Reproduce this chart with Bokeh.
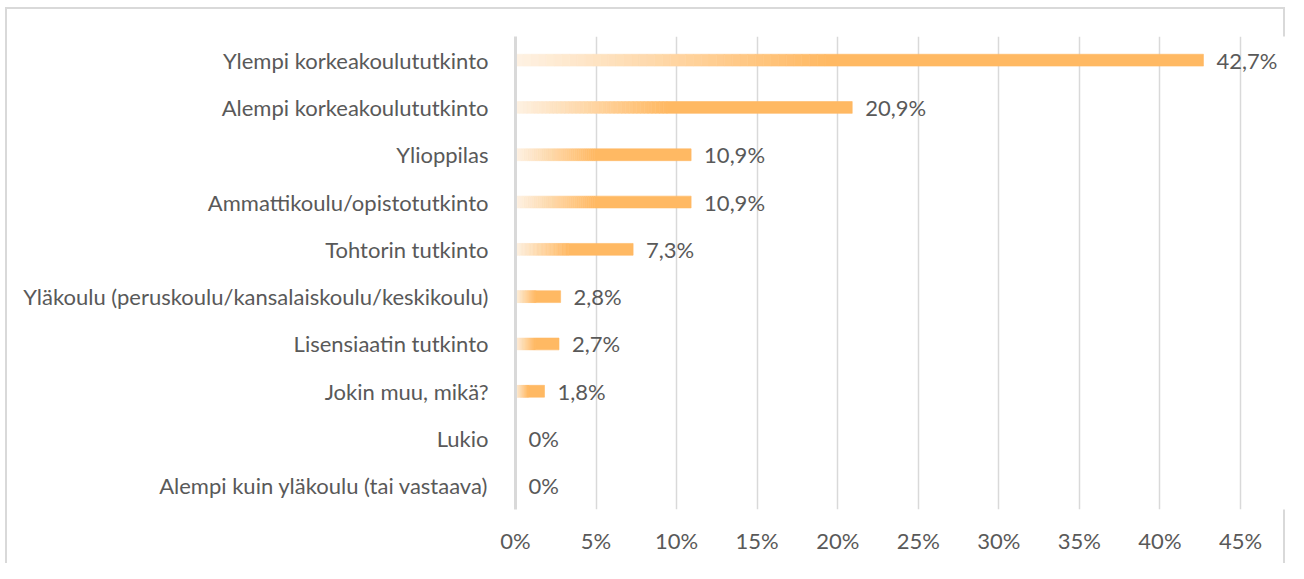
import numpy as np
from bokeh.plotting import figure
from bokeh.models import ColumnDataSource, FactorRange, FixedTicker, NumeralTickFormatter, LabelSet
from bokeh.core.properties import value
from bokeh.embed import file_html
from bokeh.resources import INLINE

categories = [
    "Ylempi korkeakoulututkinto",
    "Alempi korkeakoulututkinto",
    "Ylioppilas",
    "Ammattikoulu/opistotutkinto",
    "Tohtorin tutkinto",
    "Yläkoulu (peruskoulu/kansalaiskoulu/keskikoulu)",
    "Lisensiaatin tutkinto",
    "Jokin muu, mikä?",
    "Lukio",
    "Alempi kuin yläkoulu (tai vastaava)",
]
values = [42.7, 20.9, 10.9, 10.9, 7.3, 2.8, 2.7, 1.8, 0.0, 0.0]
x_ticks = [0, 5, 10, 15, 20, 25, 30, 35, 40, 45]

FONT = "Lato"
FS = "22px"
TEXT = "#595959"
GRID = "#d9d9d9"
c0 = np.array([254, 242, 228])
c1 = np.array([255, 185, 99])

# gradient slices (Excel-style gradient fill relative to each bar)
ys, lefts, rights, cols = [], [], [], []
N = 40
for cat, v in zip(categories, values):
    frac = v / 100.0
    if frac <= 0:
        continue
    g = frac * 0.45
    for i in range(N):
        t = (i + 0.5) / N
        c = (c0 + (c1 - c0) * t).round().astype(int)
        ys.append(cat)
        lefts.append(g * i / N)
        rights.append(g * (i + 1) / N)
        cols.append("#%02x%02x%02x" % tuple(c))
    ys.append(cat)
    lefts.append(g)
    rights.append(frac)
    cols.append("#%02x%02x%02x" % tuple(c1))
src = ColumnDataSource(dict(y=ys, left=lefts, right=rights, color=cols))

def fmt(v):
    if v == 0:
        return "0%"
    return ("%.1f%%" % v).replace(".", ",")

lab = ColumnDataSource(dict(y=categories, x=[v / 100.0 for v in values], t=[fmt(v) for v in values]))

W, H = 1288, 563
LEFT = 515
px45 = 725.0
x_end = 0.45 * (W - LEFT) / px45

p = figure(
    width=W, height=H,
    y_range=FactorRange(factors=list(reversed(categories))),
    x_range=(0, x_end),
    output_backend="svg", toolbar_location=None,
    min_border_left=LEFT, min_border_right=0, min_border_top=36, min_border_bottom=54,
)
p.styles = {
    "background-color": "white",
    "background-image": "linear-gradient(#d9d9d9,#d9d9d9), linear-gradient(#d9d9d9,#d9d9d9), linear-gradient(#d9d9d9,#d9d9d9)",
    "background-size": "1280px 2px, 2px 600px, 2px 600px",
    "background-position": "5px 7px, 5px 7px, 1283px 7px",
    "background-repeat": "no-repeat",
}
p.outline_line_color = None
p.background_fill_color = "white"
p.border_fill_color = None

p.hbar(y="y", left="left", right="right", height=0.25, fill_color="color",
       line_color="color", line_width=0.6, source=src)

labels = LabelSet(x="x", y="y", text="t", source=lab, x_offset=13, y_offset=0,
                  text_align="left", text_baseline="middle", text_font=value(FONT),
                  text_font_size=FS, text_color=TEXT)
p.add_layout(labels)

p.xaxis.ticker = FixedTicker(ticks=[t / 100.0 for t in x_ticks])
p.xaxis.formatter = NumeralTickFormatter(format="0%")
p.xaxis.axis_line_color = None
p.xaxis.major_tick_line_color = None
p.xaxis.minor_tick_line_color = None
p.xaxis.major_label_text_font = FONT
p.xaxis.major_label_text_font_size = FS
p.xaxis.major_label_text_color = TEXT
p.xaxis.major_label_standoff = 11

p.yaxis.axis_line_color = GRID
p.yaxis.axis_line_width = 3
p.yaxis.major_tick_line_color = None
p.yaxis.minor_tick_line_color = None
p.yaxis.major_label_text_font = FONT
p.yaxis.major_label_text_font_size = FS
p.yaxis.major_label_text_color = TEXT
p.yaxis.major_label_standoff = 21

p.xgrid.grid_line_color = GRID
p.xgrid.grid_line_width = 1.5
p.ygrid.grid_line_color = None

open("out.html", "w").write(file_html(p, INLINE))
